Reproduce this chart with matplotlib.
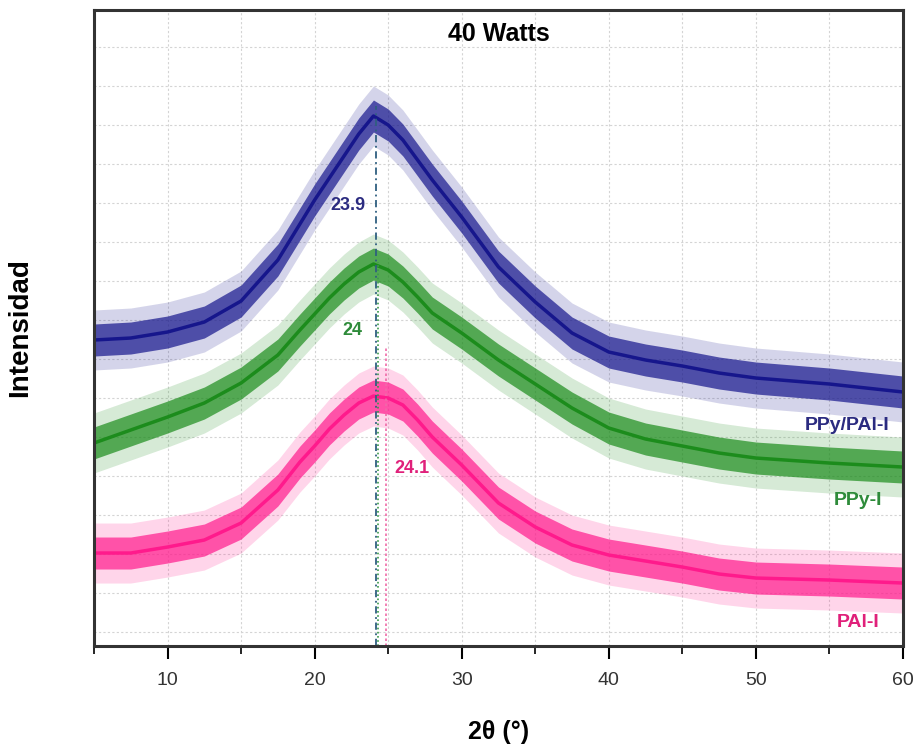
import matplotlib
matplotlib.use("Agg")
import matplotlib.pyplot as plt
import numpy as np

plt.rcParams['font.family'] = ['Liberation Sans', 'DejaVu Sans']

# 2theta positions (deg) where the traces were read
two_theta = [5, 7.5, 10, 12.5, 15, 17.5, 19, 20, 21, 22, 23, 24, 25, 26, 27, 28,
             30, 32.5, 35, 37.5, 40, 42.5, 45, 47.5, 50, 55, 60]

# intensities (a.u., offset traces as drawn)
ppy_pai_i = [306, 308, 314, 324, 345, 386, 422, 446, 468, 490, 512, 530, 521, 506, 486, 466,
             429, 379, 344, 313, 294, 286, 280, 273, 268, 262, 254]
ppy_i = [203, 216, 229, 243, 263, 291, 316, 332, 348, 362, 374, 382, 376, 364, 349, 333,
         313, 286, 262, 238, 218, 207, 200, 193, 188, 183, 179]
pai_i = [93, 93, 99, 106, 123, 156, 184, 200, 217, 231, 243, 250, 248, 241, 226, 209,
         181, 143, 119, 101, 91, 85, 79, 72, 68, 66, 63]

names = ['PPy/PAl-I', 'PPy-I', 'PAl-I']
peak_labels = ['23.9', '24', '24.1']
peak_line_x = [24.2, 24.3, 24.85]
peak_line_top = [540, 384, 300]

colors = ['#16168c', '#1c8c1c', '#ff1a8c']
text_colors = ['#2b2b80', '#2e8b3a', '#e0207a']

fig = plt.figure(figsize=(9.17, 7.46), dpi=100)
ax = fig.add_axes([0.1025, 0.134, 0.8822, 0.8526])

for ys, c in zip([ppy_pai_i, ppy_i, pai_i], colors):
    ys = np.array(ys, dtype=float)
    ax.fill_between(two_theta, ys - 30, ys + 30, color=c, alpha=0.18, lw=0)
    ax.fill_between(two_theta, ys - 16, ys + 16, color=c, alpha=0.7, lw=0)
    ax.plot(two_theta, ys, color=c, lw=2.5, solid_joinstyle='round')

# peak markers
ax.vlines(peak_line_x[0], 0, peak_line_top[0], color='#2f5f80', lw=1.3, linestyles=(0, (4, 2, 1, 2)))
ax.vlines(peak_line_x[1], 0, peak_line_top[1], color='#3a9a4a', lw=1.2, linestyles=(0, (1, 1.5)))
ax.vlines(peak_line_x[2], 0, peak_line_top[2], color='#f06aa8', lw=1.2, linestyles=(0, (1.5, 1.5)))

ax.text(22.27, 441, peak_labels[0], color=text_colors[0], fontsize=13, fontweight='bold', ha='center', va='center')
ax.text(22.6, 316, peak_labels[1], color=text_colors[1], fontsize=13, fontweight='bold', ha='center', va='center')
ax.text(26.6, 178, peak_labels[2], color=text_colors[2], fontsize=13, fontweight='bold', ha='center', va='center')

ax.text(59.1, 221, names[0], color=text_colors[0], fontsize=14, fontweight='bold', ha='right', va='center')
ax.text(58.6, 146, names[1], color=text_colors[1], fontsize=14, fontweight='bold', ha='right', va='center')
ax.text(58.4, 24, names[2], color=text_colors[2], fontsize=14, fontweight='bold', ha='right', va='center')

ax.set_xlim(5, 60)
ax.set_ylim(0, 636)
ax.set_xticks(range(10, 61, 10))
ax.set_xticks(range(5, 60, 10), minor=True)
ax.set_yticks([14 + 39 * k for k in range(16)])
ax.set_yticklabels([])
ax.tick_params(axis='y', length=0)
ax.tick_params(axis='x', which='major', direction='out', length=9, width=1.5, labelsize=14,
               labelcolor='#333333', pad=10)
ax.tick_params(axis='x', which='minor', direction='out', length=6, width=1.2)
ax.grid(True, which='both', color='#d4d4d4', linestyle=(0, (2, 2)), linewidth=0.8)
ax.set_axisbelow(True)
for s in ax.spines.values():
    s.set_linewidth(2.2)
    s.set_color('#333333')

ax.set_title('40 Watts', fontsize=18, fontweight='bold', y=0.938)
ax.set_xlabel('2θ (°)', fontsize=18, fontweight='bold', labelpad=22)
ax.set_ylabel('Intensidad', fontsize=20, fontweight='bold', labelpad=40)

fig.savefig('out.png', dpi=100)
